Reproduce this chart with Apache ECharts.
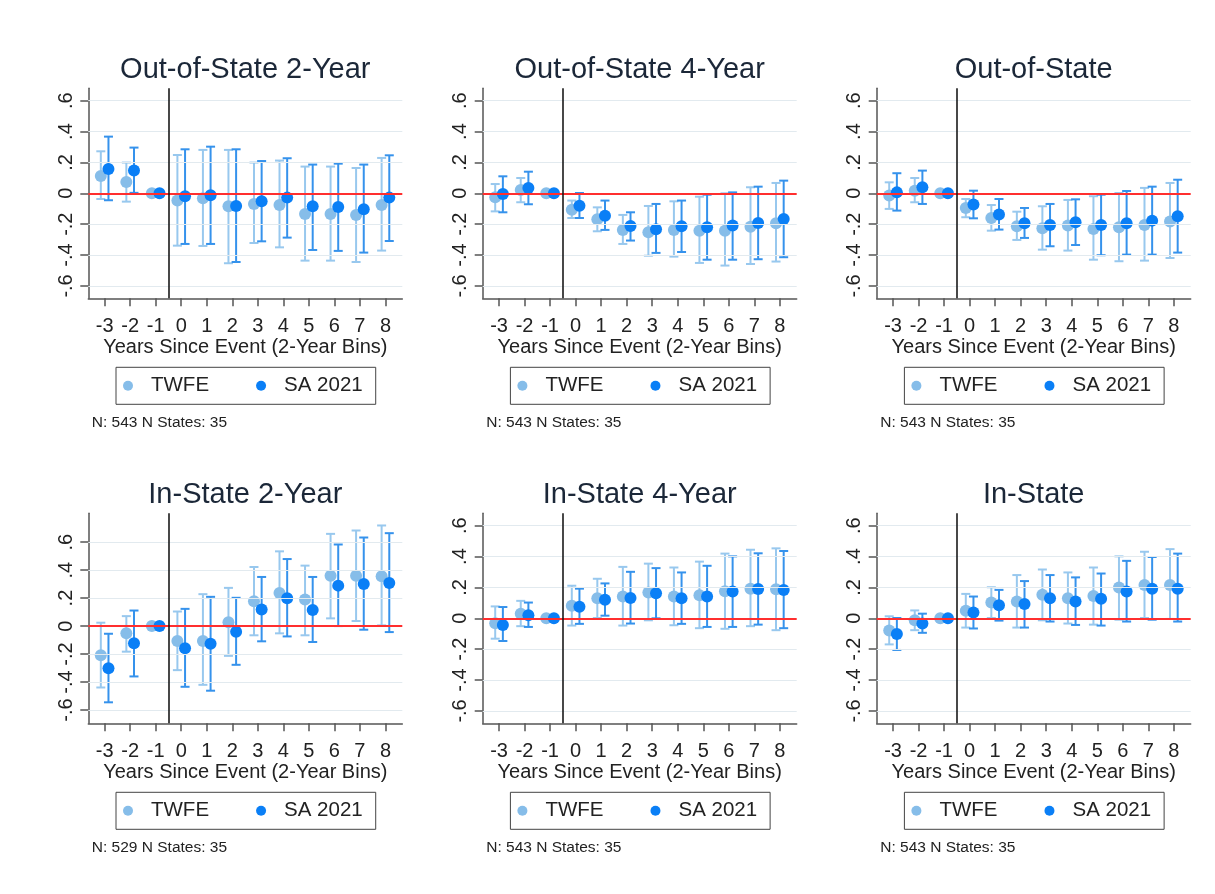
<!DOCTYPE html>
<html>
<head>
<meta charset="utf-8">
<script src="https://cdn.jsdelivr.net/npm/echarts@6/dist/echarts.min.js"></script>
<style>
  html, body { margin: 0; padding: 0; background: #ffffff; }
  #chart { width: 1215px; height: 894px; }
</style>
</head>
<body>
<div id="chart"></div>
<script>
// Event-time bins and y-axis ticks shared by all panels
const years = [-3, -2, -1, 0, 1, 2, 3, 4, 5, 6, 7, 8];
const yTicks = [-0.6, -0.4, -0.2, 0, 0.2, 0.4, 0.6];
const panelTitles = ['Out-of-State 2-Year', 'Out-of-State 4-Year', 'Out-of-State',
                     'In-State 2-Year', 'In-State 4-Year', 'In-State'];
const panelNotes = ['N: 543 N States: 35', 'N: 543 N States: 35', 'N: 543 N States: 35',
                    'N: 529 N States: 35', 'N: 543 N States: 35', 'N: 543 N States: 35'];
const seriesNames = ['TWFE', 'SA 2021'];

// Out-of-State 2-Year
const os2Twfe   = [0.112, 0.073, 0, -0.047, -0.032, -0.084, -0.069, -0.076, -0.134, -0.134, -0.140, -0.076];
const os2TwfeLo = [-0.037, -0.054, 0, -0.339, -0.341, -0.453, -0.322, -0.350, -0.436, -0.436, -0.445, -0.371];
const os2TwfeHi = [0.272, 0.199, 0, 0.248, 0.281, 0.281, 0.199, 0.212, 0.173, 0.173, 0.164, 0.229];
const os2Sa     = [0.158, 0.147, 0, -0.019, -0.013, -0.082, -0.052, -0.028, -0.084, -0.088, -0.104, -0.028];
const os2SaLo   = [-0.045, 0.003, 0, -0.328, -0.328, -0.445, -0.311, -0.287, -0.367, -0.373, -0.384, -0.309];
const os2SaHi   = [0.367, 0.296, 0, 0.285, 0.302, 0.285, 0.209, 0.227, 0.186, 0.192, 0.186, 0.246];

// Out-of-State 4-Year
const os4Twfe   = [-0.026, 0.022, 0, -0.106, -0.168, -0.237, -0.253, -0.237, -0.242, -0.242, -0.216, -0.194];
const os4TwfeLo = [-0.117, -0.058, 0, -0.160, -0.246, -0.328, -0.404, -0.410, -0.451, -0.468, -0.458, -0.442];
const os4TwfeHi = [0.060, 0.099, 0, -0.047, -0.091, -0.140, -0.082, -0.052, -0.022, 0.000, 0.039, 0.067];
const os4Sa     = [-0.004, 0.035, 0, -0.080, -0.145, -0.212, -0.233, -0.214, -0.220, -0.209, -0.192, -0.166];
const os4SaLo   = [-0.123, -0.071, 0, -0.160, -0.237, -0.306, -0.386, -0.380, -0.430, -0.430, -0.427, -0.414];
const os4SaHi   = [0.110, 0.140, 0, 0.002, -0.047, -0.123, -0.069, -0.047, -0.009, 0.006, 0.043, 0.082];

// Out-of-State (all)
const osTwfe    = [-0.015, 0.017, 0, -0.095, -0.160, -0.214, -0.227, -0.209, -0.231, -0.220, -0.205, -0.183];
const osTwfeLo  = [-0.101, -0.058, 0, -0.155, -0.242, -0.302, -0.365, -0.371, -0.430, -0.440, -0.436, -0.419];
const osTwfeHi  = [0.071, 0.099, 0, -0.037, -0.076, -0.119, -0.084, -0.043, -0.019, 0.002, 0.035, 0.067];
const osSa      = [0.006, 0.039, 0, -0.073, -0.138, -0.194, -0.205, -0.188, -0.205, -0.194, -0.177, -0.149];
const osSaLo    = [-0.112, -0.069, 0, -0.162, -0.235, -0.289, -0.343, -0.335, -0.401, -0.397, -0.397, -0.384];
const osSaHi    = [0.130, 0.147, 0, 0.017, -0.037, -0.095, -0.069, -0.039, -0.009, 0.015, 0.043, 0.088];

// In-State 2-Year
const is2Twfe   = [-0.209, -0.052, 0, -0.107, -0.107, 0.028, 0.178, 0.237, 0.190, 0.360, 0.360, 0.356];
const is2TwfeLo = [-0.439, -0.183, 0, -0.315, -0.420, -0.213, -0.066, -0.052, -0.066, 0.055, 0.036, 0.005];
const is2TwfeHi = [0.024, 0.071, 0, 0.104, 0.228, 0.273, 0.422, 0.534, 0.432, 0.659, 0.683, 0.719];
const is2Sa     = [-0.301, -0.123, 0, -0.159, -0.126, -0.040, 0.119, 0.199, 0.114, 0.289, 0.301, 0.308];
const is2SaLo   = [-0.545, -0.360, 0, -0.434, -0.462, -0.277, -0.109, -0.074, -0.114, 0.000, -0.026, -0.043];
const is2SaHi   = [-0.055, 0.111, 0, 0.123, 0.209, 0.202, 0.351, 0.479, 0.351, 0.583, 0.633, 0.664];

// In-State 4-Year
const is4Twfe   = [-0.032, 0.030, 0, 0.081, 0.130, 0.141, 0.167, 0.141, 0.149, 0.175, 0.192, 0.188];
const is4TwfeLo = [-0.132, -0.051, 0, -0.047, 0.002, -0.047, -0.013, -0.045, -0.064, -0.068, -0.051, -0.077];
const is4TwfeHi = [0.077, 0.113, 0, 0.211, 0.256, 0.333, 0.354, 0.329, 0.367, 0.419, 0.444, 0.453];
const is4Sa     = [-0.043, 0.019, 0, 0.075, 0.120, 0.132, 0.162, 0.130, 0.141, 0.173, 0.190, 0.184];
const is4SaLo   = [-0.147, -0.056, 0, -0.036, 0.017, -0.034, 0.000, -0.036, -0.056, -0.056, -0.041, -0.064];
const is4SaHi   = [0.073, 0.102, 0, 0.192, 0.226, 0.301, 0.325, 0.297, 0.340, 0.401, 0.421, 0.436];

// In-State (all)
const isTwfe    = [-0.079, -0.013, 0, 0.049, 0.102, 0.109, 0.152, 0.130, 0.145, 0.199, 0.216, 0.216];
const isTwfeLo  = [-0.169, -0.077, 0, -0.060, 0.002, -0.060, -0.013, -0.034, -0.041, -0.009, 0.002, -0.004];
const isTwfeHi  = [0.013, 0.051, 0, 0.158, 0.201, 0.280, 0.316, 0.297, 0.329, 0.401, 0.431, 0.448];
const isSa      = [-0.102, -0.034, 0, 0.038, 0.085, 0.092, 0.130, 0.109, 0.126, 0.173, 0.192, 0.192];
const isSaLo    = [-0.205, -0.094, 0, -0.066, -0.015, -0.060, -0.021, -0.043, -0.047, -0.021, -0.009, -0.021];
const isSaHi    = [0.002, 0.030, 0, 0.141, 0.184, 0.241, 0.280, 0.265, 0.290, 0.372, 0.397, 0.419];

const panels = [
  { twfe: [os2Twfe, os2TwfeLo, os2TwfeHi], sa: [os2Sa, os2SaLo, os2SaHi] },
  { twfe: [os4Twfe, os4TwfeLo, os4TwfeHi], sa: [os4Sa, os4SaLo, os4SaHi] },
  { twfe: [osTwfe, osTwfeLo, osTwfeHi],    sa: [osSa, osSaLo, osSaHi] },
  { twfe: [is2Twfe, is2TwfeLo, is2TwfeHi], sa: [is2Sa, is2SaLo, is2SaHi] },
  { twfe: [is4Twfe, is4TwfeLo, is4TwfeHi], sa: [is4Sa, is4SaLo, is4SaHi] },
  { twfe: [isTwfe, isTwfeLo, isTwfeHi],    sa: [isSa, isSaLo, isSaHi] }
];

// ---- layout and styling ----
const FONT = '"Liberation Sans", Arial, Helvetica, sans-serif';
const GRID_LEFT = [88.3, 482.7, 876.7];
const GRID_TOP = [88.3, 513.3];
const GRID_W = 314, GRID_H = 210;
// plot-region y extents (the In-State 2-Year panel stretches to hold its upper CI)
const Y_RANGE = [[-0.68, 0.68], [-0.68, 0.68], [-0.68, 0.68], [-0.695, 0.806], [-0.68, 0.68], [-0.68, 0.68]];
const X_RANGE = [-3.64, 8.66];
const DODGE = 0.15;

const COL_TWFE = '#86bde9', COL_TWFE_BAR = '#98c8ee';
const COL_SA = '#0a7ff6', COL_SA_BAR = '#3592ec';
const AXIS_COL = '#555555', TEXT_COL = '#222222', TITLE_COL = '#1b2738';

function tickFmt(v) {
  const r = Math.round(v * 10) / 10;
  if (r === 0) return '0';
  return (r < 0 ? '-' : '') + String(Math.abs(r)).replace(/^0/, '');
}

function errorBars(offset, color) {
  return function (params, api) {
    const x = api.value(0) + offset;
    const lo = api.value(1), hi = api.value(2);
    if (lo === hi) return null;
    const a = api.coord([x, lo]);
    const b = api.coord([x, hi]);
    const hw = 4.5;
    const style = { stroke: color, lineWidth: 2 };
    return {
      type: 'group',
      children: [
        { type: 'line', shape: { x1: a[0], y1: a[1], x2: b[0], y2: b[1] }, style: style },
        { type: 'line', shape: { x1: a[0] - hw, y1: a[1], x2: a[0] + hw, y2: a[1] }, style: style },
        { type: 'line', shape: { x1: b[0] - hw, y1: b[1], x2: b[0] + hw, y2: b[1] }, style: style }
      ]
    };
  };
}

const grid = [], xAxis = [], yAxis = [], series = [], title = [], legend = [];

panels.forEach(function (p, i) {
  const col = i % 3, row = Math.floor(i / 3);
  const left = GRID_LEFT[col], top = GRID_TOP[row];
  const bottom = top + GRID_H;
  const cx = left + GRID_W / 2;

  grid.push({ left: left, top: top, width: GRID_W, height: GRID_H, containLabel: false });

  xAxis.push({
    gridIndex: i, type: 'value', min: X_RANGE[0], max: X_RANGE[1],
    name: 'Years Since Event (2-Year Bins)', nameLocation: 'middle', nameGap: 35,
    nameTextStyle: { fontSize: 20, color: TEXT_COL, fontFamily: FONT },
    axisLine: { show: true, onZero: false, lineStyle: { color: AXIS_COL, width: 1.5 } },
    axisTick: { show: true, length: 8, customValues: years, lineStyle: { color: AXIS_COL, width: 1.5 } },
    axisLabel: { customValues: years, margin: 18, fontSize: 20, color: TEXT_COL, fontFamily: FONT },
    splitLine: { show: false }
  });

  yAxis.push({
    gridIndex: i, type: 'value', min: Y_RANGE[i][0], max: Y_RANGE[i][1],
    axisLine: { show: true, onZero: false, lineStyle: { color: AXIS_COL, width: 1.5 } },
    axisTick: { show: true, length: 8, customValues: yTicks, lineStyle: { color: AXIS_COL, width: 1.5 } },
    axisLabel: { customValues: yTicks, rotate: 90, margin: 12, fontSize: 20, color: TEXT_COL,
                 fontFamily: FONT, formatter: tickFmt },
    splitLine: { show: false }
  });

  // horizontal grid, zero reference and treatment-onset line
  const refLines = yTicks.filter(function (v) { return v !== 0; }).map(function (v) {
    return { yAxis: v, lineStyle: { color: '#e2eaef', width: 1.2, type: 'solid' } };
  });
  refLines.push({ yAxis: 0, lineStyle: { color: '#ff2f2f', width: 2, type: 'solid' } });
  refLines.push({ xAxis: -0.5, lineStyle: { color: '#1a1a1a', width: 1.6, type: 'solid' } });

  series.push({
    name: 'TWFE CI', type: 'custom', xAxisIndex: i, yAxisIndex: i,
    renderItem: errorBars(-DODGE, COL_TWFE_BAR),
    encode: { x: 0, y: [1, 2] },
    data: years.map(function (x, k) { return [x, p.twfe[1][k], p.twfe[2][k]]; }),
    silent: true,
    markLine: { silent: true, symbol: 'none', label: { show: false }, animation: false, data: refLines }
  });
  series.push({
    name: seriesNames[0], type: 'scatter', xAxisIndex: i, yAxisIndex: i,
    symbol: 'circle', symbolSize: 12,
    itemStyle: { color: COL_TWFE, opacity: 1 },
    data: years.map(function (x, k) { return [x - DODGE, p.twfe[0][k]]; })
  });
  series.push({
    name: 'SA 2021 CI', type: 'custom', xAxisIndex: i, yAxisIndex: i,
    renderItem: errorBars(DODGE, COL_SA_BAR),
    encode: { x: 0, y: [1, 2] },
    data: years.map(function (x, k) { return [x, p.sa[1][k], p.sa[2][k]]; }),
    silent: true
  });
  series.push({
    name: seriesNames[1], type: 'scatter', xAxisIndex: i, yAxisIndex: i,
    symbol: 'circle', symbolSize: 12,
    itemStyle: { color: COL_SA, opacity: 1 },
    data: years.map(function (x, k) { return [x + DODGE, p.sa[0][k]]; })
  });

  title.push({
    text: panelTitles[i], left: cx, top: top - 33, textAlign: 'center', padding: 0,
    textStyle: { fontSize: 29, fontWeight: 'normal', color: TITLE_COL, fontFamily: FONT }
  });
  title.push({
    text: panelNotes[i], left: left + 3.5, top: bottom + 116, padding: 0,
    textStyle: { fontSize: 15.5, fontWeight: 'normal', color: TEXT_COL, fontFamily: FONT }
  });

  legend.push({
    data: seriesNames, left: left + 27.7, top: bottom + 69, orient: 'horizontal',
    icon: 'circle', itemWidth: 10, itemHeight: 10, itemGap: 47,
    padding: [8, 13, 8, 7], borderColor: '#444', borderWidth: 1, borderRadius: 0,
    selectedMode: false,
    textStyle: { fontSize: 20.5, color: TEXT_COL, fontFamily: FONT, padding: [0, 0, 0, 13] }
  });
});

const chart = echarts.init(document.getElementById('chart'), null, { renderer: 'canvas' });
chart.setOption({
  backgroundColor: '#ffffff',
  animation: false,
  textStyle: { fontFamily: FONT },
  title: title,
  legend: legend,
  grid: grid,
  xAxis: xAxis,
  yAxis: yAxis,
  series: series
});
</script>
</body>
</html>
